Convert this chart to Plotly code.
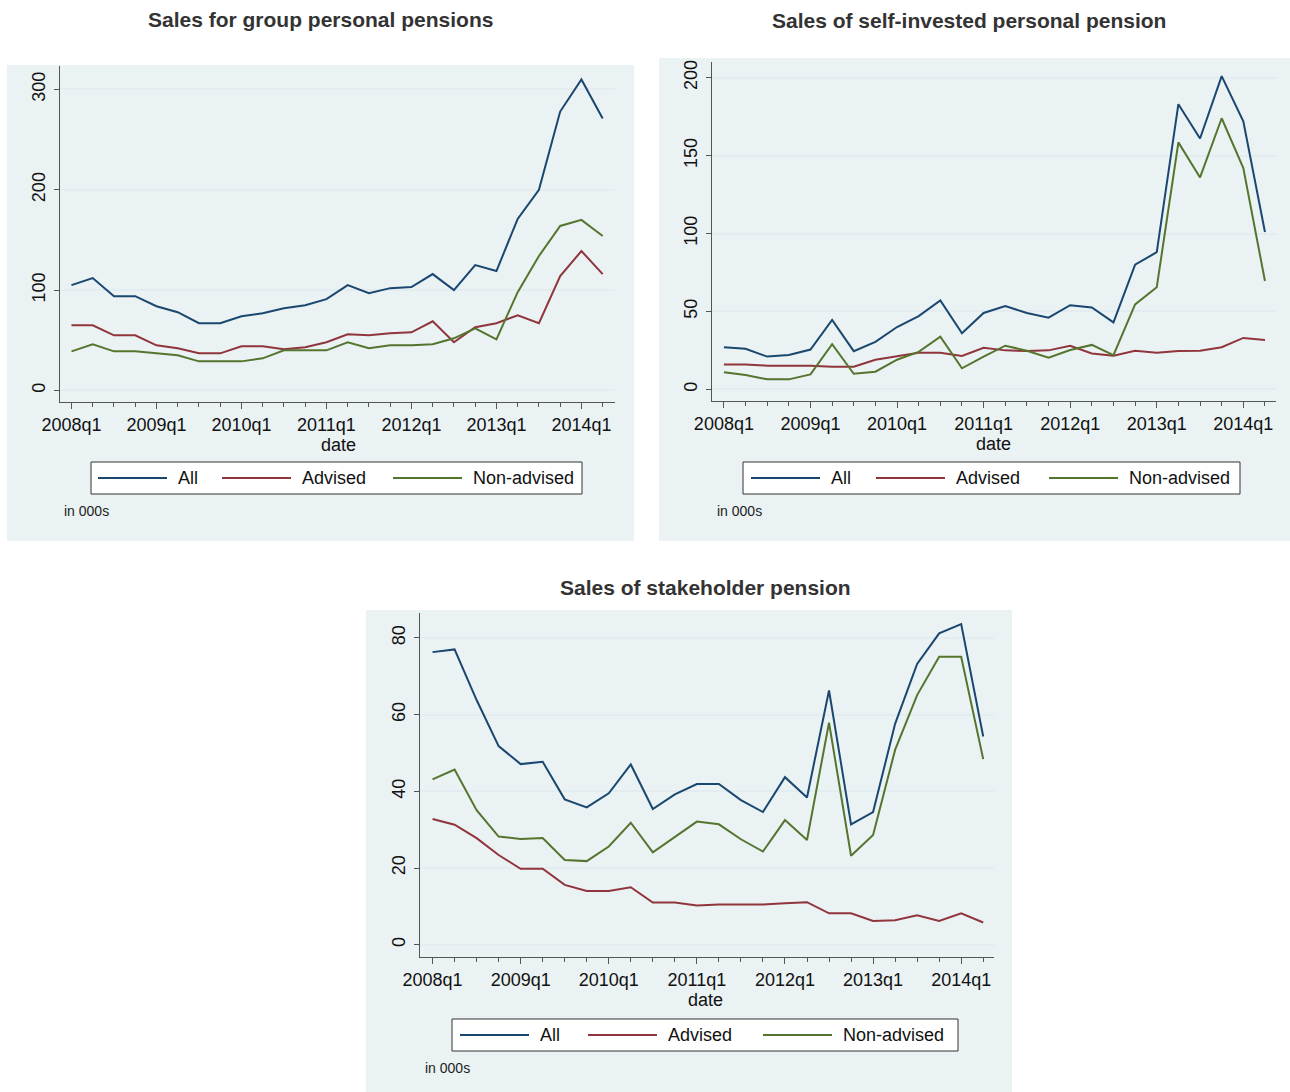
"""Quarterly pension sales by channel, three Stata-style panels."""

import plotly.graph_objects as go

QUARTERS = [f"{y}q{q}" for y in range(2008, 2015) for q in range(1, 5)][:26]

SERIES = ["All", "Advised", "Non-advised"]
COLOURS = {"All": "#1a476f", "Advised": "#90353b", "Non-advised": "#55752f"}

# Group personal pensions (000s)
gpp_all = [105, 112, 94, 94, 84, 78, 67, 67, 74, 77, 82, 85, 91, 105, 97, 102,
           103, 116, 100, 125, 119, 171, 200, 278, 310, 271]
gpp_advised = [65, 65, 55, 55, 45, 42, 37, 37, 44, 44, 41, 43, 48, 56, 55, 57,
               58, 69, 48, 63, 67, 75, 67, 114, 139, 116]
gpp_nonadvised = [39, 46, 39, 39, 37, 35, 29, 29, 29, 32, 40, 40, 40, 48, 42, 45,
                  45, 46, 52, 62, 51, 98, 134, 164, 170, 154]

# Self-invested personal pensions (000s)
sipp_all = [27, 26, 21, 22, 25.5, 44.5, 24.5, 30.5, 40, 47, 57, 36, 49, 53.5, 49, 46,
            54, 52.5, 43, 80, 88, 183, 161, 201, 172, 101]
sipp_advised = [16, 16, 15.2, 15.2, 15.2, 14.5, 14.5, 19, 21.4, 23.5, 23.5, 21.4, 26.7, 25, 24.6, 25,
                28, 23, 21.6, 24.8, 23.5, 24.6, 24.8, 27, 33, 31.7]
sipp_nonadvised = [11, 9.2, 6.4, 6.4, 9.6, 29, 10, 11.3, 19, 24, 33.8, 13.5, 21, 28, 24.8, 20.3,
                   25.2, 28.5, 22, 54.5, 65.5, 158.5, 136, 174, 142, 69.5]

# Stakeholder pensions (000s)
shp_all = [76.3, 77, 63.8, 51.8, 47.1, 47.7, 37.9, 35.8, 39.5, 47, 35.4, 39.2, 41.9, 41.9, 37.7, 34.6,
           43.7, 38.4, 66.3, 31.4, 34.6, 57.6, 73.2, 81.2, 83.6, 54.3]
shp_advised = [32.8, 31.3, 27.8, 23.4, 19.8, 19.8, 15.6, 14, 14, 15, 11, 11, 10.2, 10.5, 10.5, 10.5,
               10.8, 11.1, 8.2, 8.2, 6.2, 6.4, 7.7, 6.2, 8.2, 5.8]
shp_nonadvised = [43.1, 45.7, 35.1, 28.2, 27.6, 27.8, 22.1, 21.8, 25.6, 31.8, 24.1, 28.2, 32.1, 31.4, 27.5, 24.3,
                  32.5, 27.3, 57.9, 23.2, 28.6, 50.8, 65.1, 75.1, 75.1, 48.4]

TITLES = ["Sales for group personal pensions",
          "Sales of self-invested personal pension",
          "Sales of stakeholder pension"]

W, H = 1290, 1092
BG = "#eaf2f3"
GRID = "#e3ecf0"
AXIS = "#555555"
FONT = "Liberation Sans, Arial, sans-serif"


def px(x):
    return x / W


def py(y):
    return 1 - y / H


# panel geometry in page pixels
panels = [
    dict(data=[gpp_all, gpp_advised, gpp_nonadvised], ticks=[0, 100, 200, 300],
         bg=(7, 65, 634, 541), plot=(60, 66, 615, 402),
         xr=[-0.54, 25.58], yr=[-11.5, 323.4], title=(320, 19), date=(338, 445),
         legend=(91, 462, 582, 494, [98, 222, 393]), note=(62, 511)),
    dict(data=[sipp_all, sipp_advised, sipp_nonadvised], ticks=[0, 50, 100, 150, 200],
         bg=(659, 58, 1290, 541), plot=(712, 62, 1276, 401),
         xr=[-0.55, 25.51], yr=[-7.5, 210.1], title=(969, 20), date=(993, 444),
         legend=(743, 462, 1240, 494, [751, 876, 1049]), note=(715, 511)),
    dict(data=[shp_all, shp_advised, shp_nonadvised], ticks=[0, 20, 40, 60, 80],
         bg=(366, 610, 1012, 1092), plot=(420, 613, 994, 957),
         xr=[-0.57, 25.49], yr=[-3.2, 86.5], title=(705, 587), date=(706, 1000),
         legend=(452, 1019, 958, 1051, [460, 588, 763]), note=(423, 1068)),
]

fig = go.Figure()
xs = list(range(len(QUARTERS)))
shapes, annotations = [], []


def note(x, y, text, size, color="#111", anchor="left"):
    return dict(x=px(x), y=py(y), xref="paper", yref="paper", text=text,
                showarrow=False, xanchor=anchor, yanchor="middle",
                font=dict(size=size, color=color, family=FONT))


for i, p in enumerate(panels, start=1):
    sfx = "" if i == 1 else str(i)
    for name, ys in zip(SERIES, p["data"]):
        fig.add_trace(go.Scatter(
            x=xs, y=ys, mode="lines", name=name, showlegend=False,
            line=dict(color=COLOURS[name], width=2),
            xaxis=f"x{sfx}", yaxis=f"y{sfx}",
        ))

    x0, y0, x1, y1 = p["plot"]
    fig.layout[f"xaxis{sfx}"] = dict(
        domain=[px(x0), px(x1)], range=p["xr"], anchor=f"y{sfx}", automargin=False,
        tickvals=xs[::4], ticktext=QUARTERS[::4],
        ticks="outside", ticklen=6, tickcolor=AXIS,
        minor=dict(tickvals=xs, ticks="outside", ticklen=4, tickcolor=AXIS),
        showline=True, linecolor=AXIS, linewidth=1, mirror=False,
        showgrid=False, zeroline=False,
        tickfont=dict(size=18, color="#111"),
    )
    fig.layout[f"yaxis{sfx}"] = dict(
        domain=[py(y1), py(y0)], range=p["yr"], anchor=f"x{sfx}", automargin=False,
        tickvals=p["ticks"], tickangle=-90, ticklabelstandoff=2,
        ticks="outside", ticklen=5, tickcolor=AXIS,
        showline=True, linecolor=AXIS, linewidth=1,
        showgrid=True, gridcolor=GRID, gridwidth=1.5, zeroline=False,
        tickfont=dict(size=18, color="#111"),
    )

    bx0, by0, bx1, by1 = p["bg"]
    shapes.append(dict(type="rect", xref="paper", yref="paper", layer="below",
                       x0=px(bx0), x1=px(bx1), y0=py(by1), y1=py(by0),
                       fillcolor=BG, line=dict(width=0)))

    tx, ty = p["title"]
    annotations.append(note(tx, ty, f"<b>{TITLES[i - 1]}</b>", 21, "#333", "center"))

    # axis title sits tight under the tick labels, as in Stata
    dx, dy = p["date"]
    annotations.append(note(dx, dy, "date", 18, "#111", "center"))

    lx0, ly0, lx1, ly1, starts = p["legend"]
    shapes.append(dict(type="rect", xref="paper", yref="paper",
                       x0=px(lx0), x1=px(lx1), y0=py(ly1), y1=py(ly0),
                       fillcolor="white", line=dict(color="#333", width=1)))
    ymid = (ly0 + ly1) / 2
    for name, sx in zip(SERIES, starts):
        shapes.append(dict(type="line", xref="paper", yref="paper",
                           x0=px(sx), x1=px(sx + 69), y0=py(ymid), y1=py(ymid),
                           line=dict(color=COLOURS[name], width=2)))
        annotations.append(note(sx + 78, ymid, name, 18))

    nx, ny = p["note"]
    annotations.append(note(nx, ny, "in 000s", 14, "#222"))

fig.update_layout(
    width=W, height=H, margin=dict(l=0, r=0, t=0, b=0, autoexpand=False),
    paper_bgcolor="white", plot_bgcolor="white",
    font=dict(family=FONT),
    shapes=shapes, annotations=annotations, showlegend=False,
)

fig.write_html(
    "out.html",
    config={"displayModeBar": False},
    post_script=(
        "document.documentElement.style.margin='0';"
        "document.body.style.margin='0';document.body.style.overflow='hidden';"
        "var gd=document.getElementById('{plot_id}');"
        "gd.style.position='absolute';gd.style.left='0px';gd.style.top='0px';"
    ),
)
